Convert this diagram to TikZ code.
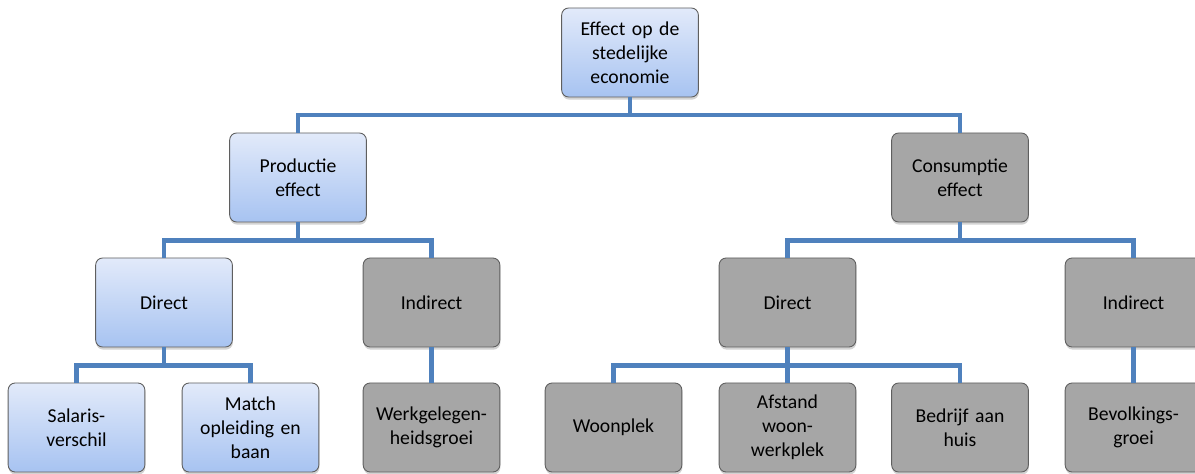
\documentclass[tikz,border=0pt]{standalone}
\usepackage{fontspec}
\setmainfont{Carlito}
\usetikzlibrary{positioning,shadows}
\definecolor{busblue}{HTML}{4F81BD}
\definecolor{boxtop}{HTML}{E2EAFA}
\definecolor{boxbottom}{HTML}{A7C3F1}
\definecolor{boxgray}{HTML}{A6A6A6}
\definecolor{boxline}{HTML}{5F5F5F}
\tikzset{
     box/.style={rectangle, rounded corners=4pt, draw=boxline, line width=0.5pt,
        minimum width=2.7cm, minimum height=1.78cm, text width=2.5cm, align=center,
        font=\fontsize{11.2}{13.7}\selectfont,
        drop shadow={shadow xshift=0.3pt, shadow yshift=-1.5pt, opacity=0.35}},
     bluebox/.style={box, top color=boxtop, bottom color=boxbottom},
     graybox/.style={box, fill=boxgray},
     conn/.style={busblue, line width=2.6pt},
    }

\begin{document}
\begin{tikzpicture}[node distance=2.5cm,on grid]
        \useasboundingbox (0,0) rectangle (23.9,-9.48);

        \node [bluebox] (econ) at (12.6,-1.05) {Effect op de\\stedelijke\\economie};
        \node [bluebox] (prod) at (5.96,-3.55) {Productie\\effect};
        \node [graybox] (cons) at (19.2,-3.55) {Consumptie\\effect};

        \node [bluebox] (pdir) at (3.28,-6.05) {Direct};
        \node [graybox] (pind) at (8.63,-6.05) {Indirect};
        \node [graybox] (cdir) at (15.75,-6.05) {Direct};
        \node [graybox] (cind) at (22.67,-6.05) {Indirect};

        \node [bluebox] (sal)   at (1.53,-8.55) {Salaris-\\verschil};
        \node [bluebox] (match) at (5.01,-8.55) {Match\\opleiding en\\baan};
        \node [graybox] (werk)  [below=of pind] {Werkgelegen-\\heidsgroei};
        \node [graybox] (woon)  at (12.27,-8.55) {Woonplek};
        \node [graybox] (afst)  at (15.75,-8.55) {Afstand\\woon-\\werkplek};
        \node [graybox] (bedr)  at (19.2,-8.55) {Bedrijf aan\\huis};
        \node [graybox] (bevo)  [below=of cind] {Bevolkings-\\groei};

        % verbindingen
        \draw [conn] (econ.south) -- ++(0,-0.35) coordinate (b1);
        \draw [conn] (b1) -| (prod.north);
        \draw [conn] (b1) -| (cons.north);

        \draw [conn] (prod.south) -- ++(0,-0.36) coordinate (b2);
        \draw [conn] (b2) -| (pdir.north);
        \draw [conn] (b2) -| (pind.north);

        \draw [conn] (cons.south) -- ++(0,-0.36) coordinate (b3);
        \draw [conn] (b3) -| (cdir.north);
        \draw [conn] (b3) -| (cind.north);

        \draw [conn] (pdir.south) -- ++(0,-0.36) coordinate (b4);
        \draw [conn] (b4) -| (sal.north);
        \draw [conn] (b4) -| (match.north);
        \draw [conn] (pind) -- (werk);

        \draw [conn] (cdir.south) -- ++(0,-0.36) coordinate (b5);
        \draw [conn] (b5) -| (woon.north);
        \draw [conn] (b5) -| (bedr.north);
        \draw [conn] (cdir) -- (afst);
        \draw [conn] (cind) -- (bevo);
    \end{tikzpicture}
\end{document}
